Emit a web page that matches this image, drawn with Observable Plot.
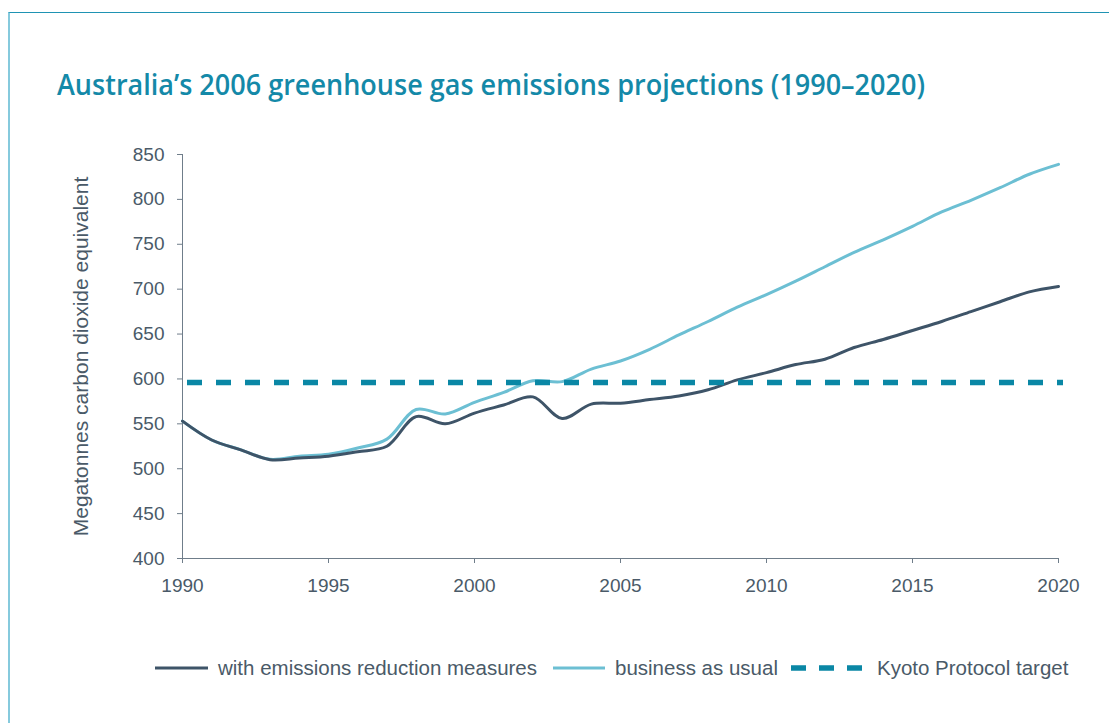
<!DOCTYPE html>
<html>
<head>
<meta charset="utf-8">
<script src="https://cdn.jsdelivr.net/npm/d3@7"></script>
<script src="https://cdn.jsdelivr.net/npm/@observablehq/plot@0.6"></script>
<style>
  html, body { margin: 0; padding: 0; background: #fff; }
  body { width: 1109px; height: 723px; position: relative; overflow: hidden; font-family: "Liberation Sans", Arial, sans-serif; }
  #frame { position: absolute; left: 8px; top: 12px; right: -2px; bottom: -2px; border-top: 1.5px solid #1f93b3; border-left: 2px solid #86cadd; }
  #title { position: absolute; left: 0; top: 60px; }
  #chart { position: absolute; left: 0; top: 120px; }
  .leg { position: absolute; top: 656px; height: 24px; display: flex; align-items: center; font-size: 20.5px; color: #4a5a68; white-space: nowrap; }
  .leg svg { margin-right: 10px; }
</style>
</head>
<body>
<div id="frame"></div>
<svg id="title" width="1109" height="50">
  <text x="57" y="35" font-family="'Open Sans', 'Noto Sans', sans-serif" font-weight="600" font-size="28" fill="#1489a8" textLength="868" lengthAdjust="spacingAndGlyphs">Australia’s 2006 greenhouse gas emissions projections (1990–2020)</text>
</svg>
<div id="chart"></div>
<div class="leg" style="left:155px"><svg width="53" height="6"><line x1="0" x2="53" y1="3" y2="3" stroke="#3e5468" stroke-width="3"/></svg>with emissions reduction measures</div>
<div class="leg" style="left:553px"><svg width="52" height="6"><line x1="0" x2="52" y1="3" y2="3" stroke="#6cbfd3" stroke-width="3"/></svg>business as usual</div>
<div class="leg" style="left:791px"><svg width="72" height="8" style="margin-right:14px"><line x1="0" x2="71" y1="4" y2="4" stroke="#0a87a5" stroke-width="5.5" stroke-dasharray="15,13"/></svg>Kyoto Protocol target</div>
<script>
const years = [1990, 1991, 1992, 1993, 1994, 1995, 1996, 1997, 1998, 1999, 2000,
               2001, 2002, 2003, 2004, 2005, 2006, 2007, 2008, 2009, 2010,
               2011, 2012, 2013, 2014, 2015, 2016, 2017, 2018, 2019, 2020];
const withMeasures = [553, 532, 521, 510, 512, 514, 519, 525, 558, 550, 562,
                      571, 580, 556, 572, 573, 577, 581, 588, 599, 607,
                      616, 622, 635, 644, 654, 664, 675, 686, 697, 703];
const businessAsUsual = [553, 532, 521, 510.5, 514, 516, 523, 533, 566, 561, 574,
                         585, 598, 597, 611, 620, 633, 649, 664, 680, 694,
                         709, 725, 741, 755, 770, 786, 799, 813, 828, 839];
const kyotoTarget = [596];
const xTicks = [1990, 1995, 2000, 2005, 2010, 2015, 2020];
const yTicks = [400, 450, 500, 550, 600, 650, 700, 750, 800, 850];
const yLabel = ["Megatonnes carbon dioxide equivalent"];

const dark = years.map((year, i) => ({year, value: withMeasures[i]}));
const light = years.map((year, i) => ({year, value: businessAsUsual[i]}));

const axisColor = "#6f7d8a";
const textColor = "#4a5a68";

const chart = Plot.plot({
  width: 1109,
  height: 500,
  marginLeft: 182,
  marginRight: 51,
  marginTop: 34,
  marginBottom: 62,
  style: {fontFamily: "'Liberation Sans', Arial, sans-serif", color: textColor, background: "transparent"},
  x: {domain: [1990, 2020]},
  y: {domain: [400, 850]},
  marks: [
    Plot.axisX({ticks: xTicks, tickFormat: d => String(d), tickSize: 5, tickPadding: 15, fontSize: 19, stroke: axisColor, fill: textColor, label: null}),
    Plot.axisY({ticks: yTicks, tickSize: 5, tickPadding: 13, fontSize: 19, stroke: axisColor, fill: textColor, label: null}),
    Plot.text(yLabel, {text: d => d, frameAnchor: "left", rotate: -90, dx: -109, lineAnchor: "top", textAnchor: "middle", fontSize: 21, fill: textColor}),
    Plot.ruleX([1990], {stroke: axisColor, strokeWidth: 1}),
    Plot.ruleY([400], {stroke: axisColor, strokeWidth: 1}),
    Plot.line(light, {x: "year", y: "value", stroke: "#6cbfd3", strokeWidth: 3, curve: "catmull-rom"}),
    Plot.line(dark, {x: "year", y: "value", stroke: "#3e5468", strokeWidth: 3, curve: "catmull-rom"}),
    Plot.ruleY(kyotoTarget, {y: d => d, x1: 1990, x2: 2020, dx: 5, stroke: "#0a87a5", strokeWidth: 5.5, strokeDasharray: "15,14"})
  ]
});
document.getElementById("chart").appendChild(chart);
</script>
</body>
</html>
